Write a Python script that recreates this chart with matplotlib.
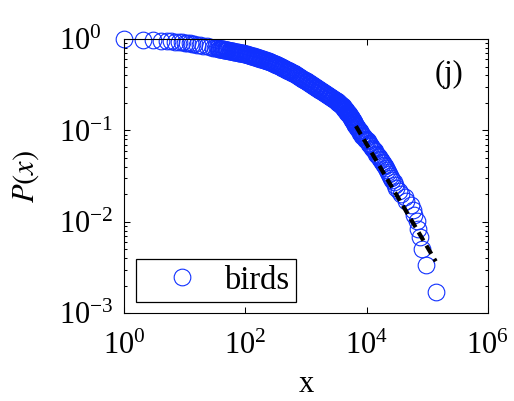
import matplotlib
matplotlib.use("Agg")
import matplotlib.pyplot as plt
from matplotlib.ticker import FixedLocator, LogLocator, NullLocator

plt.rcParams["font.family"] = "serif"
plt.rcParams["font.serif"] = ["Liberation Serif", "DejaVu Serif"]
plt.rcParams["mathtext.fontset"] = "stix"

# Complementary cumulative distribution of bird sightings per species
counts = [
    1, 2, 3, 4, 5, 6, 7, 8, 9, 10, 11, 12, 13, 14,
    16, 18, 20, 23, 26, 29, 32,
    34, 35, 36, 37, 38, 39, 40, 41, 42, 43, 44, 45, 46, 47, 48, 49, 50, 52,
    53, 55, 56, 58, 59, 61, 63, 65, 66, 68, 70, 72, 75, 77, 79, 82, 84, 87,
    89, 92, 94, 97, 100, 103, 106, 109, 112, 115, 118, 122, 126, 129, 133,
    137, 141, 145, 149, 153, 158, 162, 167, 172, 177, 182, 188, 193, 199,
    205, 211, 217, 223, 229, 236, 243, 250, 257, 265, 273, 281, 289, 297,
    306, 315, 324, 334, 343, 353, 363, 374, 385, 397, 408, 420, 432, 445,
    458, 471, 485, 499, 514, 529, 544, 560, 576, 593, 610, 628, 647, 666,
    685, 705, 726, 747, 769, 791, 814, 838, 863, 888, 914, 940, 968, 996,
    1025, 1055, 1086, 1117, 1150, 1183, 1218, 1253, 1290, 1328, 1367, 1406,
    1447, 1489, 1533, 1578, 1624, 1671, 1720, 1770, 1822, 1875, 1930, 1986,
    2045, 2104, 2166, 2229, 2295, 2361, 2430, 2500, 2574, 2648, 2726, 2805,
    2888, 2972, 3060, 3148, 3194, 3240, 3287, 3335, 3383, 3432, 3482, 3532,
    3583, 3635, 3688, 3741, 3795, 3850, 3906, 3963, 4020, 4078, 4137, 4197,
    4258, 4319, 4382, 4445, 4510, 4575, 4641, 4708, 4776, 4845, 4916, 4987,
    5059, 5132, 5207, 5282, 5359, 5436, 5515, 5594, 5675, 5757, 5841, 5925,
    6011, 6098, 6187, 6276, 6367, 6459, 6569, 6679,
    6950, 7080, 7210, 7480, 7680, 7785, 7930, 8080, 8400, 8570, 8810, 9060,
    9520, 9770, 10130, 10500, 10950, 11170, 11480, 11800, 12400, 12760,
    13250, 13800, 14400, 14860, 15400, 16000, 16500, 17000, 17800, 18700,
    19400, 20100, 20900, 21700, 22500, 23400, 24400, 25500, 26700, 28000,
    29200, 30500, 34000, 36500, 42500, 45000, 53500, 58500, 60000, 67000,
    70000, 76200, 82200, 97500, 138000,
]
ccdf = [
    1.0, 0.975, 0.965, 0.957, 0.950, 0.943, 0.935, 0.929, 0.921, 0.914,
    0.906, 0.897, 0.889, 0.883,
    0.871, 0.857, 0.847, 0.832, 0.818, 0.807, 0.798,
    0.792, 0.790, 0.787, 0.784, 0.781, 0.779, 0.776, 0.774, 0.771, 0.769,
    0.766, 0.764, 0.762, 0.760, 0.758, 0.756, 0.754, 0.750,
    0.748, 0.745, 0.743, 0.740, 0.738, 0.735, 0.731, 0.728, 0.726, 0.724,
    0.721, 0.718, 0.714, 0.712, 0.709, 0.706, 0.703, 0.700,
    0.698, 0.695, 0.693, 0.690, 0.687, 0.683, 0.679, 0.675, 0.671, 0.668,
    0.665, 0.660, 0.656, 0.653, 0.649,
    0.645, 0.641, 0.638, 0.635, 0.631, 0.627, 0.623, 0.619, 0.615, 0.611,
    0.607, 0.603, 0.600, 0.596,
    0.592, 0.587, 0.584, 0.581, 0.577, 0.573, 0.569, 0.565, 0.561, 0.556,
    0.551, 0.546, 0.542, 0.537,
    0.533, 0.528, 0.524, 0.519, 0.515, 0.511, 0.506, 0.501, 0.497, 0.492,
    0.488, 0.483, 0.478, 0.473,
    0.468, 0.463, 0.459, 0.455, 0.451, 0.446, 0.442, 0.437, 0.433, 0.428,
    0.424, 0.420, 0.415, 0.410,
    0.405, 0.400, 0.396, 0.391, 0.387, 0.382, 0.377, 0.372, 0.368, 0.364,
    0.360, 0.356, 0.352, 0.348,
    0.344, 0.339, 0.335, 0.331, 0.327, 0.323, 0.319, 0.315, 0.312, 0.308,
    0.304, 0.300,
    0.297, 0.293, 0.290, 0.286, 0.283, 0.279, 0.276, 0.272, 0.269, 0.265,
    0.262, 0.259,
    0.256, 0.253, 0.250, 0.247, 0.244, 0.241, 0.238, 0.235, 0.232, 0.229,
    0.226, 0.223,
    0.220, 0.217, 0.215, 0.212, 0.210, 0.208, 0.207, 0.205, 0.203, 0.201,
    0.200, 0.198,
    0.196, 0.194, 0.193, 0.191, 0.190, 0.188, 0.187, 0.185, 0.183, 0.181,
    0.179, 0.177,
    0.175, 0.173, 0.171, 0.169, 0.167, 0.165, 0.163, 0.161, 0.159, 0.157,
    0.1555, 0.154,
    0.152, 0.150, 0.1475, 0.145, 0.143, 0.141, 0.139, 0.137, 0.135, 0.133,
    0.131, 0.129,
    0.127, 0.125, 0.1225, 0.120, 0.118, 0.116, 0.1139, 0.1117,
    0.1083, 0.1066, 0.1049, 0.1015, 0.0981, 0.0964, 0.0948, 0.0931, 0.0897,
    0.0880, 0.0863, 0.0846,
    0.0812, 0.0795, 0.0778, 0.0761, 0.0728, 0.0711, 0.0694, 0.0677, 0.0643,
    0.0626,
    0.0609, 0.0592, 0.0558, 0.0541, 0.0525, 0.0508, 0.0491, 0.0474, 0.0457,
    0.0440,
    0.0423, 0.0406, 0.0389, 0.0372, 0.0355, 0.0338, 0.0321, 0.0305, 0.0288,
    0.0271,
    0.0254, 0.0237, 0.0220, 0.0203, 0.0186, 0.0169, 0.0152, 0.01354, 0.01184,
    0.01015,
    0.00846, 0.00677, 0.00508, 0.00338, 0.00169,
]

# Power-law fit above x_min
fit_x = [6679, 138705]
fit_p = [0.1117, 0.0037]

x_ticks = [1, 1e2, 1e4, 1e6]
series_label = "birds"
panel_tag = "(j)"

FS = 22

fig = plt.figure(figsize=(5.14, 4.01), dpi=100)
ax = fig.add_axes([0.2418, 0.2187, 0.7070, 0.6840])

blue = "#1030ff"
ax.loglog(counts, ccdf, linestyle="none", marker="o", markersize=12,
          markerfacecolor="none", markeredgecolor=blue, markeredgewidth=0.8,
          clip_on=False, label=series_label, zorder=2)
ax.loglog(fit_x, fit_p, color="black", linewidth=3.0,
          linestyle=(0, (2.3, 1.4)), zorder=3)

ax.set_xlim(1, 1e6)
ax.set_ylim(1e-3, 1)

ax.xaxis.set_major_locator(FixedLocator(x_ticks))
ax.xaxis.set_minor_locator(NullLocator())
ax.yaxis.set_major_locator(LogLocator(base=10))
ax.yaxis.set_minor_locator(LogLocator(base=10, subs=range(2, 10)))

ax.tick_params(which="both", direction="in", top=True, right=True,
               labelsize=FS, width=0.75)
ax.tick_params(which="major", length=4)
ax.tick_params(which="minor", length=2)
ax.tick_params(axis="y", which="major", pad=47)
ax.tick_params(axis="x", which="major", pad=13)
for lbl in ax.get_yticklabels():
    lbl.set_horizontalalignment("left")
for sp in ax.spines.values():
    sp.set_linewidth(0.8)

ax.set_xlabel("x", fontsize=FS)
ax.xaxis.set_label_coords(0.5, -0.208)
ax.set_ylabel("$P(x)$", fontsize=FS)
ax.yaxis.set_label_coords(-0.228, 0.5)

ax.text(0.893, 0.872, panel_tag, transform=ax.transAxes, fontsize=FS,
        ha="center", va="center")

leg = ax.legend(loc="lower left", bbox_to_anchor=(0.031, 0.041),
                borderaxespad=0, fontsize=23.5, numpoints=1,
                handlelength=2.45, handletextpad=0.06, borderpad=0.2,
                fancybox=False, framealpha=1)
leg.get_frame().set_edgecolor("black")
leg.get_frame().set_linewidth(0.9)

fig.savefig("out.png", dpi=100)
